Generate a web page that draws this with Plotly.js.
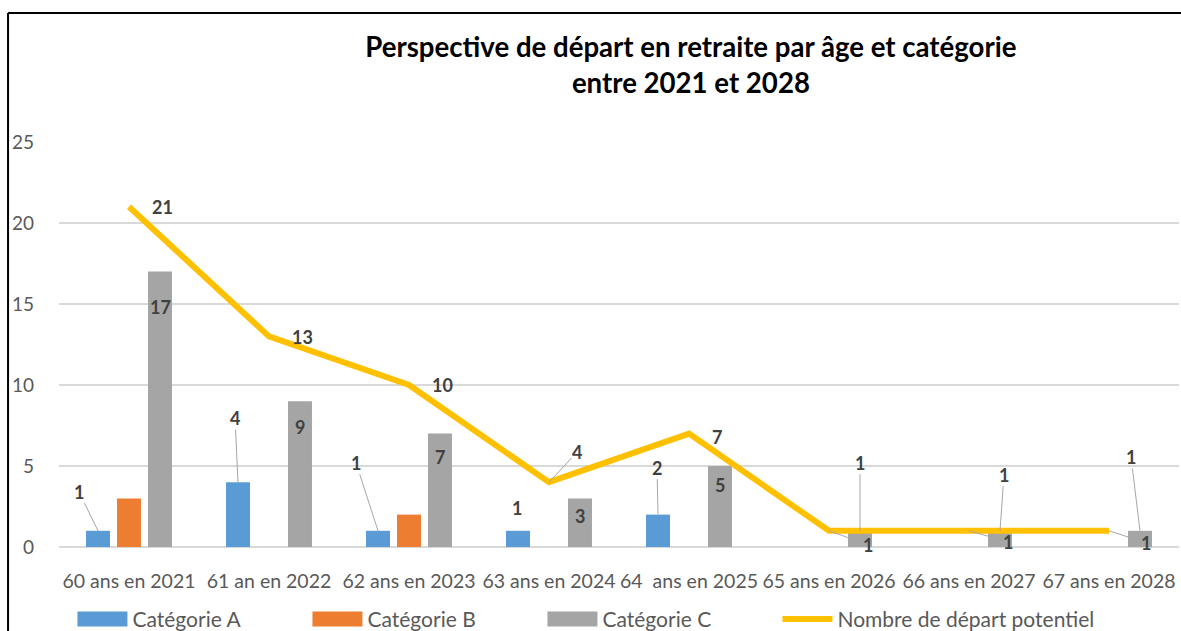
<!DOCTYPE html>
<html><head><meta charset="utf-8">
<script src="https://cdn.plot.ly/plotly-3.0.1.min.js"></script>
<style>html,body{margin:0;padding:0;background:#fff}#chart{width:1181px;height:631px}</style>
</head><body><div id="chart"></div>
<script>
const categories = ["60 ans en 2021","61 an en 2022","62 ans en 2023","63 ans en 2024","64\u00a0\u00a0ans en 2025","65 ans en 2026","66 ans en 2027","67 ans en 2028"];
const catA = [1,4,1,1,2,0,0,0];
const catB = [3,0,2,0,0,0,0,0];
const catC = [17,9,7,3,5,1,1,1];
const totalDeparts = [21,13,10,4,7,1,1,1];
const seriesNames = ["Catégorie A","Catégorie B","Catégorie C","Nombre de départ potentiel"];
const yTicks = [0,5,10,15,20,25];

const FONT = "Lato, 'Open Sans', sans-serif";
const colA = "#5B9BD5", colB = "#ED7D31", colC = "#A5A5A5", colL = "#FFC000";

// label placement (pixel offsets from the data point)
const posA = [{dx:-19,dy:-39,a:1},{dx:-3,dy:-64,a:1},{dx:-22,dy:-68,a:1},{dx:-1,dy:-23},{dx:-1,dy:-47,a:1},null,null,null];
const posC = [{dx:0,dy:35},{dx:0,dy:26},{dx:0,dy:23},{dx:0,dy:18},{dx:0,dy:19},{dx:0,dy:-68,a:1},{dx:4,dy:-56,a:1},{dx:-9,dy:-74,a:1}];
const posL = [{dx:33,dy:0},{dx:33,dy:1},{dx:33,dy:0},{dx:28,dy:-30,a:1},{dx:28,dy:3},{dx:39,dy:14,a:1},{dx:39,dy:11,a:1},{dx:37,dy:12,a:1}];

function makeLabels(values, pos, shift) {
  const out = [];
  values.forEach((v, i) => {
    const p = pos[i];
    if (!p) return;
    const base = {
      x: categories[i], y: v, xref: "x", yref: "y", text: String(v),
      font: {family: FONT, size: 18, color: "#404040", weight: 700},
    };
    if (p.a) {
      Object.assign(base, {showarrow: true, ax: p.dx, ay: p.dy, xshift: shift,
        arrowhead: 0, arrowwidth: 1, arrowcolor: "#A6A6A6", standoff: 0, startstandoff: 0, borderpad: 0});
    } else {
      Object.assign(base, {showarrow: false, xshift: shift + p.dx, yshift: -p.dy, xanchor: "center", yanchor: "middle"});
    }
    out.push(base);
  });
  return out;
}

const traces = [
  {type: "bar", name: seriesNames[0], x: categories, y: catA, marker: {color: colA}, hoverinfo: "skip"},
  {type: "bar", name: seriesNames[1], x: categories, y: catB, marker: {color: colB}, hoverinfo: "skip"},
  {type: "bar", name: seriesNames[2], x: categories, y: catC, marker: {color: colC}, hoverinfo: "skip"},
  {type: "scatter", mode: "lines", name: seriesNames[3], x: categories, y: totalDeparts,
   line: {color: colL, width: 6}, hoverinfo: "skip", legendwidth: 300}
];

const annotations = [].concat(
  makeLabels(catA, posA, -31),
  makeLabels(catC, posC, 31),
  makeLabels(totalDeparts, posL, 0)
);

const layout = {
  width: 1181, height: 631,
  margin: {l: 59, r: 2, t: 142, b: 84, autoexpand: false},
  paper_bgcolor: "#fff", plot_bgcolor: "#fff",
  font: {family: FONT, color: "#595959"},
  title: {
    text: "<b>Perspective de départ en retraite par âge et catégorie<br>entre 2021 et 2028</b>",
    font: {family: FONT, size: 27.6, color: "#000"},
    x: 0.585, xref: "container", xanchor: "center",
    y: 1 - 57/631, yref: "container", yanchor: "top"
  },
  barmode: "group", bargap: 0.336, bargroupgap: 0.226,
  xaxis: {type: "category", showgrid: false, showline: false, zeroline: false, ticks: "",
    tickfont: {family: FONT, size: 19.5, color: "#595959"}, ticklabelstandoff: 20, fixedrange: true},
  yaxis: {range: [0, 25], tickvals: yTicks, showgrid: true, gridcolor: "#D9D9D9", gridwidth: 1.5,
    zeroline: true, zerolinecolor: "#D9D9D9", zerolinewidth: 1.5, showline: false, ticks: "",
    tickfont: {family: FONT, size: 19, color: "#595959"}, ticklabelstandoff: 24, fixedrange: true},
  showlegend: true,
  legend: {orientation: "h", x: 0.012, xanchor: "left", y: -0.128, yanchor: "top",
    font: {family: FONT, size: 21, color: "#595959"}, entrywidth: 170, entrywidthmode: "pixels",
    itemwidth: 50, traceorder: "normal"},
  annotations: annotations,
  shapes: [
    {type: "line", xref: "paper", yref: "paper", x0: -0.0455, x1: -0.0455, y0: -0.3, y1: 1.3185, line: {color: "#000", width: 2}},
    {type: "line", xref: "paper", yref: "paper", x0: -0.0455, x1: 1.01, y0: 1.3185, y1: 1.3185, line: {color: "#000", width: 2}}
  ]
};

Plotly.newPlot("chart", traces, layout, {staticPlot: true, displayModeBar: false}).then(gd => {
  // widen the bar legend swatches into the wide rectangles of the original
  gd.querySelectorAll(".legend .legendpoints path.legendundefined").forEach(p => {
    p.setAttribute("d", "M25,7.5H-25V-7.5H25Z");
  });
});
</script>
</body></html>
